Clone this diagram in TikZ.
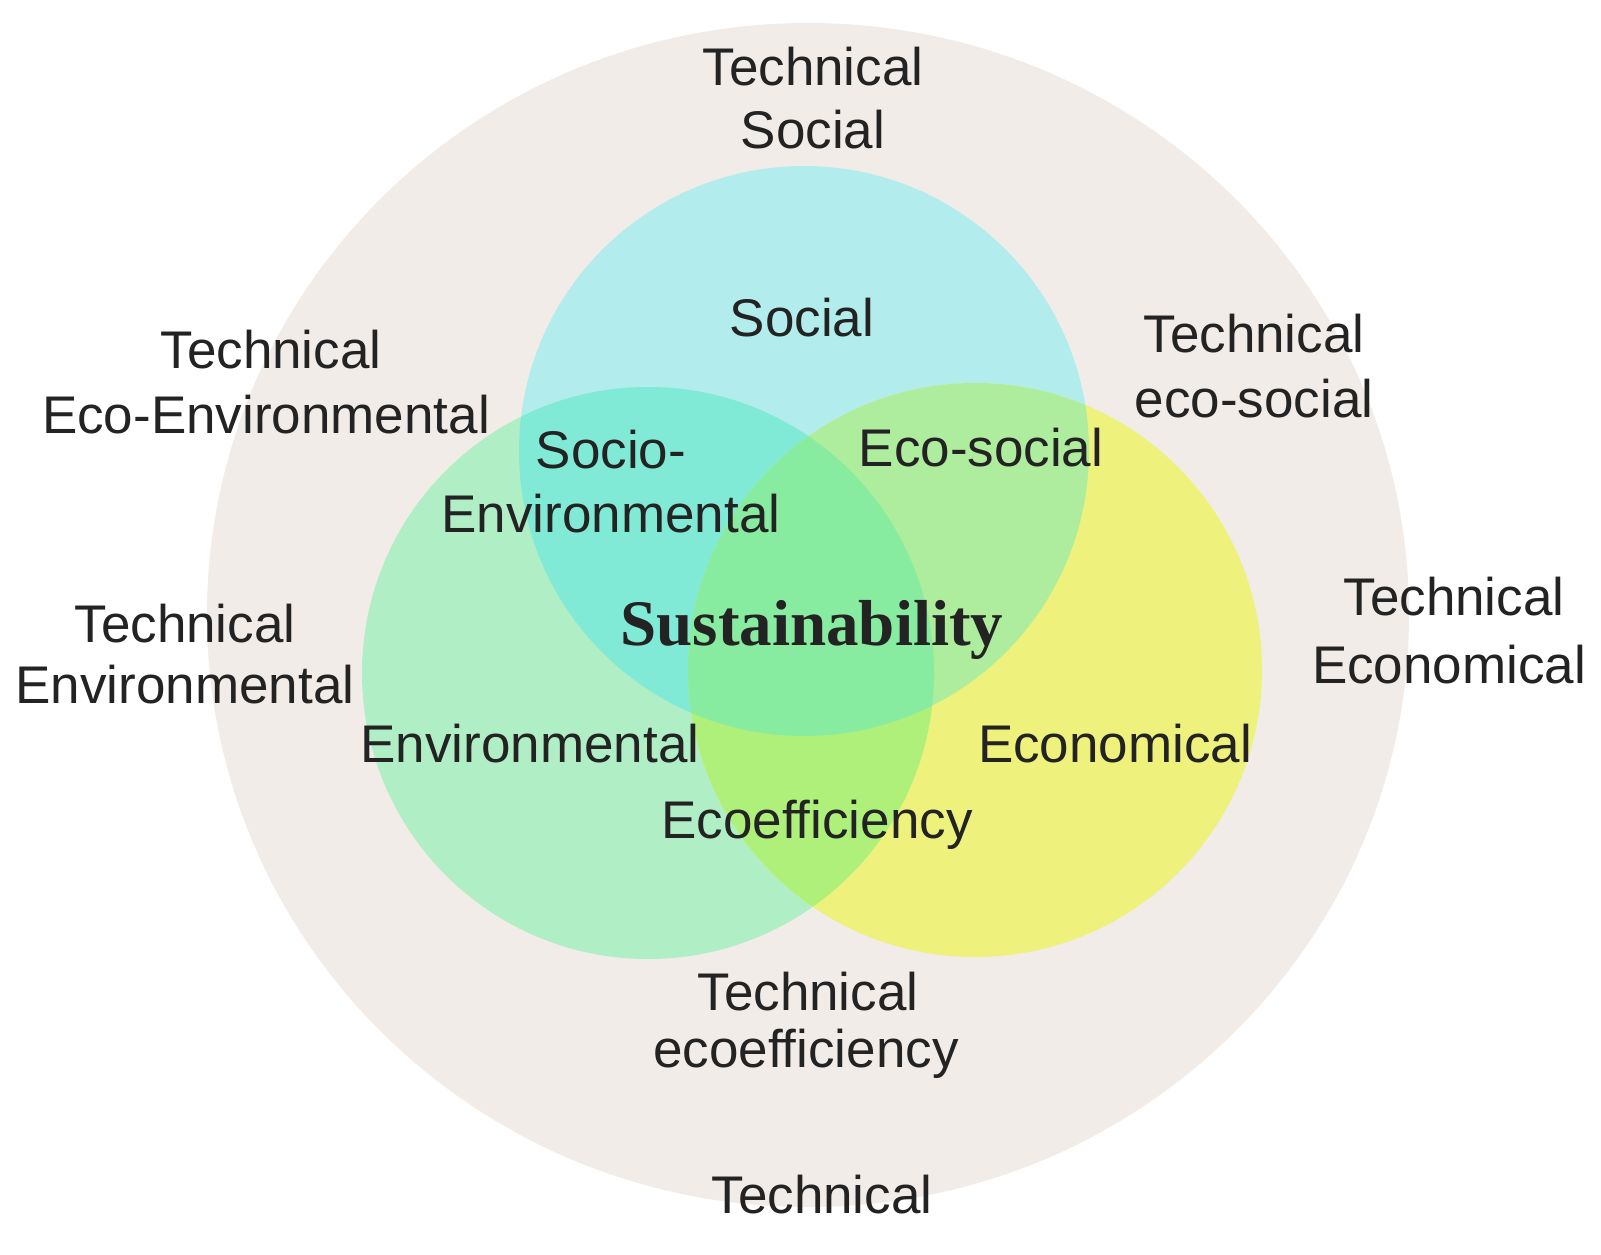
\documentclass[tikz,border=0pt]{standalone}
\usepackage{fontspec}
\setmainfont{Liberation Sans}
\newfontfamily\susfont{Liberation Serif}
\definecolor{beige}{HTML}{F1ECE7}
\definecolor{socc}{HTML}{B2ECEC}
\definecolor{envc}{HTML}{B0EEC6}
\definecolor{ecoc}{HTML}{EEF27C}
\definecolor{socenv}{HTML}{80EAD6}
\definecolor{socecon}{HTML}{AEEC9E}
\definecolor{envecon}{HTML}{AEF07A}
\definecolor{allc}{HTML}{88ECA0}
\definecolor{txt}{HTML}{232323}
\begin{document}
\begin{tikzpicture}[x=1pt,y=-1pt,
  lbl/.style={font=\fontsize{53}{60}\selectfont, text=txt, anchor=base, inner sep=0pt},
  suslbl/.style={font=\susfont\bfseries\fontsize{65}{70}\selectfont, text=txt, anchor=base, inner sep=0pt}]
\useasboundingbox (0,0) rectangle (1601,1255);
\fill[white] (0,0) rectangle (1601,1255);
% centres
\coordinate (cB) at (808,615);
\coordinate (cS) at (804,451);
\coordinate (cE) at (648,673);
\coordinate (cC) at (975,670);
% outer technical ring
\fill[beige] (cB) ellipse[x radius=601pt, y radius=592pt];
% base circles
\fill[socc] (cS) circle[radius=285pt];
\fill[envc] (cE) circle[radius=286pt];
\fill[ecoc] (cC) circle[radius=287pt];
% pairwise overlaps
\begin{scope}
  \clip (cS) circle[radius=285pt];
  \fill[socenv] (cE) circle[radius=286pt];
  \fill[socecon] (cC) circle[radius=287pt];
\end{scope}
\begin{scope}
  \clip (cE) circle[radius=286pt];
  \fill[envecon] (cC) circle[radius=287pt];
\end{scope}
% triple overlap
\begin{scope}
  \clip (cS) circle[radius=285pt];
  \clip (cE) circle[radius=286pt];
  \fill[allc] (cC) circle[radius=287pt];
\end{scope}
% outer labels
\node[lbl] (ts1) at (813,85) {Technical};
\node[lbl] (ts2) at (813,148) {Social};
\node[lbl] (tee1) at (271,368) {Technical};
\node[lbl] (tee2) at (266,433) {Eco-Environmental};
\node[lbl] (tes1) at (1254,352) {Technical};
\node[lbl] (tes2) at (1254,417) {eco-social};
\node[lbl] (tev1) at (185,642) {Technical};
\node[lbl] (tev2) at (185,703) {Environmental};
\node[lbl] (tec1) at (1454,615) {Technical};
\node[lbl] (tec2) at (1449,683) {Economical};
\node[lbl] (tef1) at (808,1010) {Technical};
\node[lbl] (tef2) at (806,1067) {ecoefficiency};
\node[lbl] (tech) at (822,1213) {Technical};
% inner labels
\node[lbl] (soc) at (802,336) {Social};
\node[lbl] (se1) at (611,468) {Socio-};
\node[lbl] (se2) at (611,532) {Environmental};
\node[lbl] (ecs) at (981,466) {Eco-social};
\node[suslbl] (sus) at (812,645) {Sustainability};
\node[lbl] (env) at (530,762) {Environmental};
\node[lbl] (eco) at (1115,762) {Economical};
\node[lbl] (eff) at (817,838) {Ecoefficiency};
\end{tikzpicture}
\end{document}
